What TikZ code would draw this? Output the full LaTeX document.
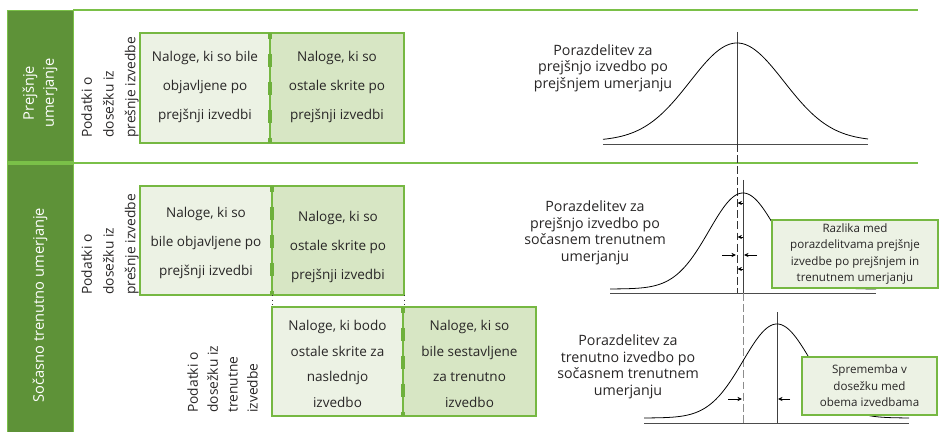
\documentclass[tikz,border=0pt]{standalone}
\usepackage{fontspec}
\setmainfont{Open Sans}
\usetikzlibrary{arrows.meta,shadows}
\definecolor{side}{RGB}{94,146,56}
\definecolor{rulegreen}{RGB}{122,192,72}
\definecolor{edge}{RGB}{118,184,66}
\definecolor{dashgreen}{RGB}{110,176,60}
\definecolor{lightf}{RGB}{236,242,228}
\definecolor{darkf}{RGB}{215,230,196}
\definecolor{txt}{RGB}{40,38,38}
\tikzset{
  sidebox/.style={fill=side, draw=rulegreen, line width=0.4pt},
  sidetext/.style={text=white, rotate=90, align=center, font=\fontsize{8.35}{11.3}\selectfont},
  hrule/.style={draw=rulegreen, line width=1.13pt},
  boxlight/.style={fill=lightf, draw=edge, line width=0.85pt},
  boxdark/.style={fill=darkf, draw=edge, line width=0.85pt},
  divider/.style={draw=dashgreen, line width=1.9pt, dash pattern=on 7.4pt off 8.5pt, dash phase=4pt},
  boxtext/.style={align=center, text=txt, inner sep=0pt, font=\fontsize{7.7}{16.7}\selectfont},
  boxtextc/.style={align=center, text=txt, inner sep=0pt, font=\fontsize{7.7}{14.7}\selectfont},
  vtext/.style={rotate=90, align=left, text=txt, inner sep=0pt, anchor=south west, font=\fontsize{7.85}{12.4}\selectfont},
  vtextc/.style={rotate=90, align=left, text=txt, inner sep=0pt, anchor=south west, font=\fontsize{7.85}{11.3}\selectfont},
  curve/.style={line width=0.45pt, black},
  axisline/.style={line width=0.45pt, black!70},
  cline/.style={line width=0.4pt, black!75},
  guide/.style={line width=0.45pt, black!80, dash pattern=on 4.5pt off 1.8pt},
  guidelight/.style={line width=0.45pt, black!45, dash pattern=on 4.5pt off 1.8pt},
  conn/.style={line width=0.35pt, black!80, dotted},
  lbl/.style={align=center, text=txt, inner sep=0pt, font=\fontsize{8.1}{9.4}\selectfont},
  callout/.style={fill=lightf, draw=edge, line width=1.1pt, align=center, text=txt, inner sep=0pt,
    font=\fontsize{6.6}{9.4}\selectfont,
    drop shadow={shadow xshift=0.4pt, shadow yshift=-0.8pt, opacity=0.35}},
  arr/.style={-{Stealth[length=2.6pt,width=2.4pt]}, line width=0.45pt, black},
}
\begin{document}
\begin{tikzpicture}[x=0.02cm,y=-0.02cm]
\useasboundingbox (0,0) rectangle (940,432);
% sidebars and rules
\path[sidebox] (7,10) rectangle (73,161.6);
\path[sidebox] (7,164.6) rectangle (73,434);
\draw[hrule] (73,10) -- (918,10);
\draw[hrule] (7,163) -- (918,163);
\node[sidetext] (s1) at (40,93) {Prejšnje\\umerjanje};
\node[sidetext] (s2) at (40,305) {Sočasno trenutno umerjanje};

% top section boxes
\path[boxlight] (140,33) rectangle (270,143);
\path[boxdark] (270,33) rectangle (404,143);
\draw[divider] (270,33) -- (270,143);
\node[boxtext] (b1) at (205,87) {Naloge, ki so bile\\objavljene po\\prejšnji izvedbi};
\node[boxtext] (b2) at (337,87) {Naloge, ki so\\ostale skrite po\\prejšnji izvedbi};
\node[vtext] (v1) at (139,138) {Podatki o\\dosežku iz\\prešnje izvedbe};

% second section boxes
\path[boxlight] (140,186) rectangle (272,295);
\path[boxdark] (272,186) rectangle (404,295);
\draw[divider] (272,186) -- (272,295);
\node[boxtext] (ba) at (206,243) {Naloge, ki so\\bile objavljene po\\prejšnji izvedbi};
\node[boxtext] (bb) at (338,247) {Naloge, ki so\\ostale skrite po\\prejšnji izvedbi};
\node[vtext] (v2) at (139,295) {Podatki o\\dosežku iz\\prešnje izvedbe};

\path[boxlight] (272,307) rectangle (403,416);
\path[boxdark] (403,307) rectangle (536,416);
\draw[divider] (403,307) -- (403,416);
\node[boxtextc] (bc) at (337.5,364) {Naloge, ki bodo\\ostale skrite za\\naslednjo\\izvedbo};
\node[boxtextc] (bd) at (469.5,364) {Naloge, ki so\\bile sestavljene\\za trenutno\\izvedbo};
\node[vtextc] (v3) at (258,413) {Podatki o\\dosežku iz\\trenutne\\izvedbe};

\coordinate (ca1) at (272,295.5); \coordinate (ca2) at (272,306.5);
\coordinate (cb1) at (404,295.5); \coordinate (cb2) at (404,306.5);
\draw[conn] (ca1) -- (ca2);
\draw[conn] (cb1) -- (cb2);

% curve 1
\draw[axisline] (603,144) -- (868,144);
\draw[cline] (737,32) -- (737,144);
\draw[curve] plot[domain=603:868, samples=140, smooth] (\x,{141-98*exp(-0.5*((\x-737)/47)^2)});
\node[lbl] (l1) at (603,68) {Porazdelitev za\\prejšnjo izvedbo po\\prejšnjem umerjanju};

% curve 2
\draw[guide] (737,144) -- (737,293);
\draw[axisline] (610,293) -- (876,293);
\draw[cline] (743,180) -- (743,293);
\draw[curve] plot[domain=610:876, samples=160, smooth] (\x,{289-96*exp(-0.5*((\x-743)/34)^2)});
\node[lbl] (l2) at (595,233) {Porazdelitev za\\prejšnjo izvedbo po\\sočasnem trenutnem\\umerjanju};
\foreach \yy in {203,237,269} \draw[arr] (743,\yy) -- (737.5,\yy);
\draw[arr] (722,255) -- (736,255);
\draw[arr] (757,255) -- (744,255);
\node[callout, minimum width=3.32cm, minimum height=1.36cm] (r1) at (855,254)
  {Razlika med\\porazdelitvama prejšnje\\izvedbe po prejšnjem in\\trenutnem umerjanju};

% curve 3
\draw[guidelight] (743,293) -- (743,423);
\draw[axisline] (644,423) -- (909,423);
\draw[cline] (777,312) -- (777,423);
\draw[curve] plot[domain=644:909, samples=160, smooth] (\x,{418-94*exp(-0.5*((\x-777)/34)^2)});
\node[lbl] (l3) at (628,367) {Porazdelitev za\\trenutno izvedbo po\\sočasnem trenutnem\\umerjanju};
\draw[arr] (728,399) -- (742,399);
\draw[arr] (790,399) -- (778,399);
\node[callout, minimum width=2.7cm, minimum height=1.16cm] (r2) at (869.5,386)
  {Sprememba v\\dosežku med\\obema izvedbama};
\end{tikzpicture}
\end{document}
